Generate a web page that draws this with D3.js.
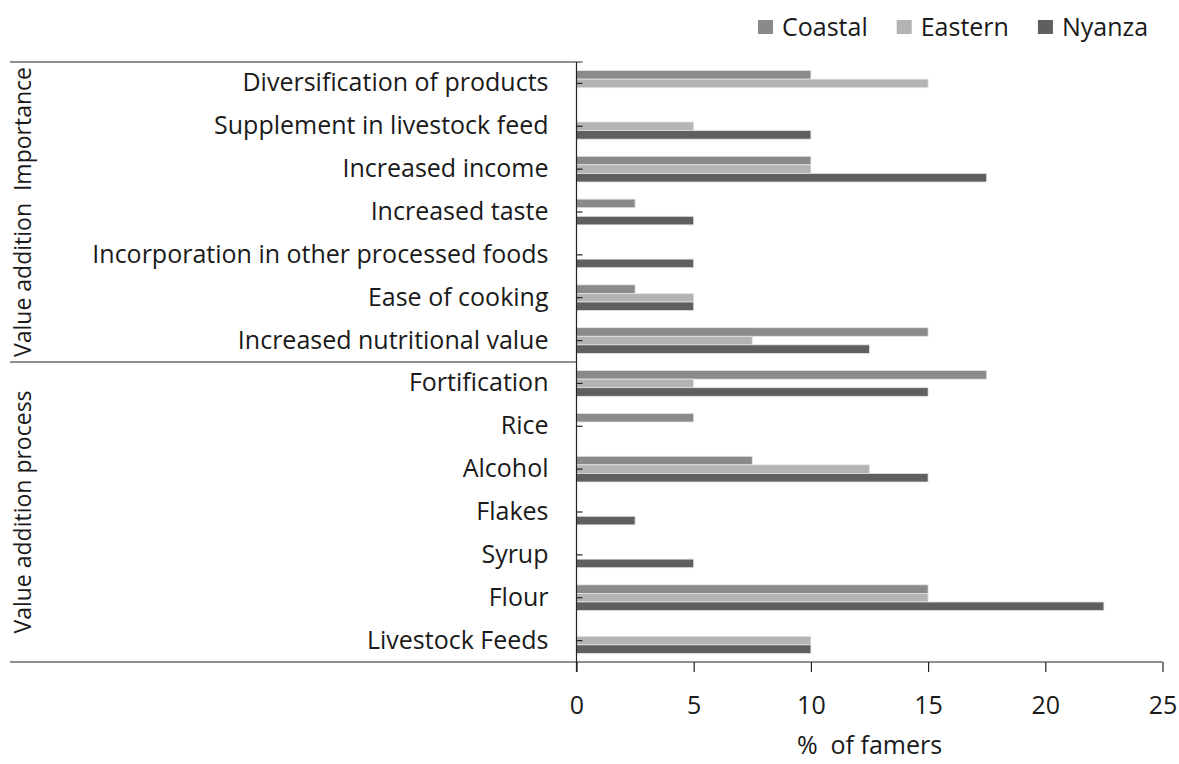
<!DOCTYPE html>
<html>
<head>
<meta charset="utf-8">
<script src="https://cdn.jsdelivr.net/npm/d3@7"></script>
<style>
  html, body { margin: 0; padding: 0; background: #fff; }
  svg { display: block; font-family: "Open Sans", "DejaVu Sans", sans-serif; }
</style>
</head>
<body>
<svg id="chart" width="1179" height="764"></svg>
<script>
// Reasons for and forms of value addition, by region (% of farmers)
const categories = [
  "Diversification of products",
  "Supplement in livestock feed",
  "Increased income",
  "Increased taste",
  "Incorporation in other processed foods",
  "Ease of cooking",
  "Increased nutritional value",
  "Fortification",
  "Rice",
  "Alcohol",
  "Flakes",
  "Syrup",
  "Flour",
  "Livestock Feeds"
];
const seriesNames = ["Coastal", "Eastern", "Nyanza"];
const coastal = [10, 0, 10, 2.5, 0, 2.5, 15, 17.5, 5, 7.5, 0, 0, 15, 0];
const eastern = [15, 5, 10, 0, 0, 5, 7.5, 5, 0, 12.5, 0, 0, 15, 10];
const nyanza  = [0, 10, 17.5, 5, 5, 5, 12.5, 15, 0, 15, 2.5, 5, 22.5, 10];
const xTicks = [0, 5, 10, 15, 20, 25];
const groups = [
  { label: "Value addition  Importance", from: "Diversification of products", to: "Increased nutritional value" },
  { label: "Value addition process", from: "Fortification", to: "Livestock Feeds" }
];
const xTitle = "%  of famers";

const colors = { Coastal: "#8a8a8a", Eastern: "#b4b4b4", Nyanza: "#5f5f5f" };
const values = { Coastal: coastal, Eastern: eastern, Nyanza: nyanza };
const textColor = "#1a1a1a";
const fontSize = 25;

const svg = d3.select("#chart");
const plot = { left: 576.5, right: 1162.5, top: 62, bottom: 662 };

const x = d3.scaleLinear().domain([0, 25]).range([plot.left, plot.right]);
const y = d3.scaleBand().domain(categories).range([plot.top, plot.bottom])
  .paddingInner(0.4).paddingOuter(0.2);
const ySub = d3.scaleBand().domain(seriesNames).range([0, y.bandwidth()]);

// Bars
seriesNames.forEach(s => {
  svg.append("g").selectAll("rect")
    .data(categories.map((c, i) => ({ c, v: values[s][i] })).filter(d => d.v > 0))
    .join("rect")
    .attr("x", x(0))
    .attr("y", d => y(d.c) + ySub(s))
    .attr("width", d => x(d.v) - x(0))
    .attr("height", ySub.bandwidth())
    .attr("fill", colors[s])
    .attr("stroke", "#e4e4e4")
    .attr("stroke-width", 0.8);
});

// Category axis (labels on the left, small ticks pointing into the plot)
const yAxis = d3.axisLeft(y).tickSize(0).tickPadding(28);
const yg = svg.append("g").attr("transform", `translate(${plot.left},0)`).call(yAxis);
yg.select(".domain").remove();
yg.selectAll("text").attr("font-size", fontSize).attr("fill", textColor)
  .attr("font-family", "'Open Sans', sans-serif");
svg.append("g").selectAll("line").data(categories).join("line")
  .attr("x1", plot.left).attr("x2", plot.left + 6)
  .attr("y1", d => y(d) + y.bandwidth() / 2).attr("y2", d => y(d) + y.bandwidth() / 2)
  .attr("stroke", "#222").attr("stroke-width", 1.2);

// Value axis
const xAxis = d3.axisBottom(x).tickValues(xTicks).tickSize(10).tickPadding(24).tickSizeOuter(0);
const xg = svg.append("g").attr("transform", `translate(0,${plot.bottom})`).call(xAxis);
xg.select(".domain").remove();
xg.selectAll("line").attr("stroke", "#222").attr("stroke-width", 1.2);
xg.selectAll("text").attr("font-size", fontSize).attr("fill", textColor)
  .attr("font-family", "'Open Sans', sans-serif");

// Axis lines and group frame
const frame = svg.append("g").attr("stroke", "#222").attr("stroke-width", 1.2);
frame.append("line").attr("x1", plot.left).attr("x2", plot.left)
  .attr("y1", plot.top).attr("y2", plot.bottom + 10);
frame.append("line").attr("x1", 10).attr("x2", plot.right)
  .attr("y1", plot.bottom).attr("y2", plot.bottom);
frame.append("line").attr("x1", 10).attr("x2", plot.left + 6)
  .attr("y1", plot.top).attr("y2", plot.top);

// Group separators and rotated group labels
groups.forEach((g, i) => {
  const top = i === 0 ? plot.top : (y(groups[i - 1].to) + y.bandwidth() + y(g.from)) / 2;
  const bottom = i === groups.length - 1 ? plot.bottom : (y(g.to) + y.bandwidth() + y(groups[i + 1].from)) / 2;
  if (i < groups.length - 1) {
    frame.append("line").attr("x1", 10).attr("x2", plot.left)
      .attr("y1", bottom).attr("y2", bottom);
  }
  const cy = (top + bottom) / 2;
  svg.append("text")
    .attr("transform", `translate(31,${cy}) rotate(-90)`)
    .attr("text-anchor", "middle")
    .attr("font-size", 23).attr("fill", textColor)
    .style("white-space", "pre")
    .text(g.label);
});

// Axis title
svg.append("text")
  .attr("x", (plot.left + plot.right) / 2).attr("y", 754)
  .attr("text-anchor", "middle").attr("font-size", fontSize).attr("fill", textColor)
  .style("white-space", "pre")
  .text(xTitle);

// Legend
const legend = svg.append("g").attr("transform", "translate(758,27)");
let lx = 0;
seriesNames.forEach(s => {
  const g = legend.append("g").attr("transform", `translate(${lx},0)`);
  g.append("rect").attr("x", 0).attr("y", -7).attr("width", 15).attr("height", 14).attr("fill", colors[s]);
  const t = g.append("text").attr("x", 24).attr("y", 9).attr("font-size", fontSize).attr("fill", textColor).text(s);
  lx += 24 + t.node().getComputedTextLength() + 29;
});
</script>
</body>
</html>
